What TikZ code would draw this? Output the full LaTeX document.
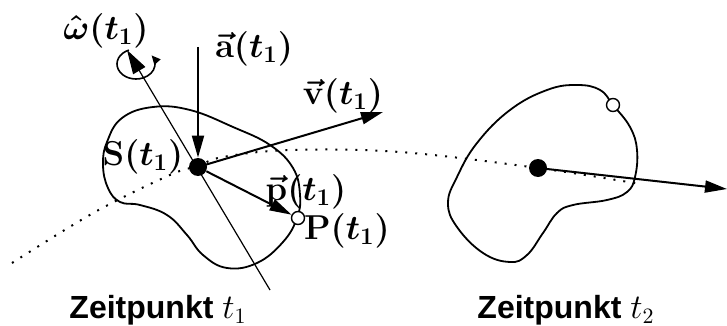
\documentclass[tikz,border=0pt]{standalone}
\usepackage{amsmath}
\usepackage{fontspec}
\newfontfamily\helv{Liberation Sans}
\usetikzlibrary{arrows.meta}
\begin{document}
\begin{tikzpicture}[x=0.5pt,y=-0.5pt,
  vecarrow/.style={line width=1pt,-{Triangle[length=11pt,width=6pt]}},
  axisline/.style={line width=0.6pt,-{Triangle[length=12pt,width=7pt]}},
  blob/.style={line width=0.9pt},
  traj/.style={line width=1pt,dash pattern=on 1pt off 4pt},
  cdot/.style={circle,fill=black,inner sep=0pt,minimum size=9pt},
  odot/.style={circle,draw=black,fill=white,line width=0.7pt,inner sep=0pt,minimum size=6.5pt},
  mlab/.style={font=\fontsize{16.5}{18}\selectfont\boldmath,inner sep=0pt},
  tlab/.style={font=\fontsize{16}{18}\selectfont\helv\bfseries,inner sep=0pt}]
\useasboundingbox (0,0) rectangle (727,326);

% trajectory
\draw[traj] plot[smooth,tension=0.6] coordinates {(12,263) (95,212) (170,175) (198,166) (223,157) (290,150) (400,152) (538,168) (640,184)};

% left blob
\draw[blob] plot[smooth cycle,tension=0.7] coordinates {(153,107) (190,110) (233,127) (270,145) (293,168) (300,195) (297,218) (283,242) (257,263) (227,268) (203,255) (187,235) (167,215) (140,205) (120,202) (108,188) (103,165) (107,142) (122,118)};

% right blob
\draw[blob] plot[smooth cycle,tension=0.7] coordinates {(577,85) (600,90) (613,105) (630,127) (637,150) (635,177) (627,192) (607,200) (573,205) (557,213) (543,233) (527,255) (510,262) (483,253) (457,227) (448,203) (457,177) (477,143) (510,110) (547,90)};

% axis of rotation
\coordinate (axb) at (270,290);
\coordinate (axt) at (127,50);
\draw[axisline] (axb) -- (axt);
\draw[line width=0.8pt,-{Triangle[length=4.5pt,width=4pt]}] (136,64) ++(-112:19 and 15) arc[start angle=-112,end angle=-395,x radius=19,y radius=15];

% points
\node[cdot] (S) at (198,167) {};
\node[odot] (P) at (298,218) {};
\node[cdot] (S2) at (538,168) {};
\node[odot] (P2) at (613,105) {};

% vectors
\coordinate (atop) at (198,47);
\coordinate (vtip) at (383,112);
\coordinate (v2tip) at (727,189);
\draw[vecarrow] (atop) -- (S);
\draw[vecarrow] (S.center) -- (vtip);
\draw[vecarrow] (S) -- (P);
\draw[vecarrow] (S2.center) -- (v2tip);

% labels
\node[mlab] (lom) at (106,31) {$\hat{\omega}(t_1)$};
\node[mlab] (la) at (254,49) {$\vec{\mathbf{a}}(t_1)$};
\node[mlab] (lv) at (343,96) {$\vec{\mathbf{v}}(t_1)$};
\node[mlab] (lS) at (143,157) {$\mathbf{S}(t_1)$};
\node[mlab] (lp) at (306,192) {$\vec{\mathbf{p}}(t_1)$};
\node[mlab] (lP) at (347,231) {$\mathbf{P}(t_1)$};
\node[tlab,anchor=base] (z1) at (158,318) {Zeitpunkt $t_1$};
\node[tlab,anchor=base] (z2) at (566,318) {Zeitpunkt $t_2$};
\end{tikzpicture}
\end{document}
